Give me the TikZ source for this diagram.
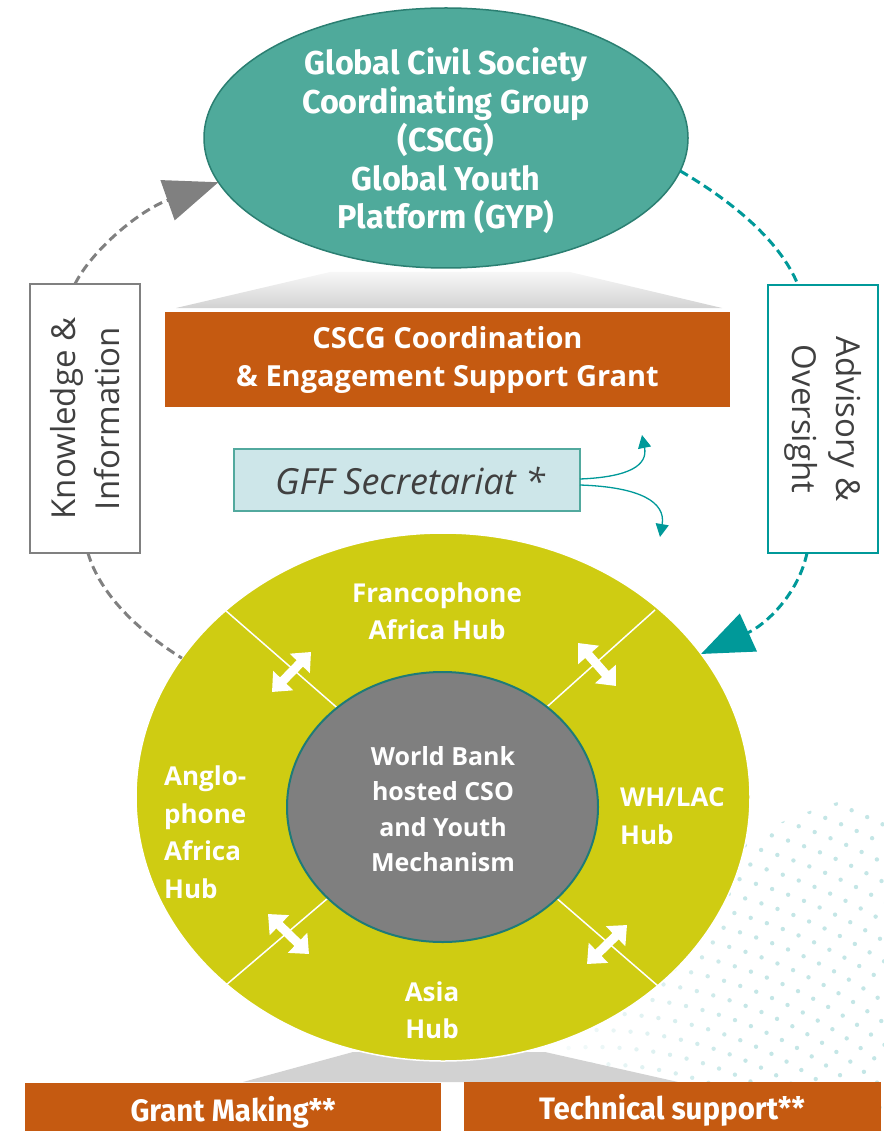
\documentclass[tikz,border=0pt]{standalone}
\usepackage{fontspec}
\setmainfont{Open Sans}
\newfontfamily\condfont[FakeStretch=0.95]{Fira Sans}
\newfontfamily\condfontb[FakeStretch=0.98]{Fira Sans}
\usetikzlibrary{shapes.geometric,arrows.meta,calc}
\definecolor{cscgfill}{HTML}{4FAA9B}
\definecolor{cscgline}{HTML}{2B7F72}
\definecolor{orangebox}{HTML}{C55A11}
\definecolor{hubfill}{HTML}{CFCC12}
\definecolor{wbfill}{HTML}{7F7F7F}
\definecolor{wbline}{HTML}{1E7B78}
\definecolor{tealarrow}{HTML}{009999}
\definecolor{grayarrow}{HTML}{808080}
\definecolor{gfffill}{HTML}{CDE6E9}
\definecolor{gffline}{HTML}{52A99E}
\definecolor{darktext}{HTML}{404040}
\definecolor{dotc}{HTML}{C4E6E6}
\begin{document}
\begin{tikzpicture}[x=1pt,y=-1pt,
  hubtxt/.style={text=white,font=\fontsize{26}{37.5}\selectfont\bfseries,inner sep=0pt},
  orangebx/.style={fill=orangebox,draw=none,inner sep=0pt,outer sep=0pt},
  sidebox/.style={fill=white,line width=1.5pt,inner sep=0pt,outer sep=0pt,minimum width=110pt},
  sidetxt/.style={text=darktext,font=\fontsize{33}{44}\selectfont,align=center,inner sep=0pt},
  dashedcon/.style={line width=3pt,dash pattern=on 9pt off 5pt},
  twoway/.style={white,line width=9pt,{Triangle[length=16pt,width=27pt]}-{Triangle[length=16pt,width=27pt]}}
]
\useasboundingbox (0,0) rectangle (883,1131);

% decorative dots
\begin{scope}
  \clip (960,1230) circle (445);
  \foreach \r in {300,317,...,660}{
    \pgfmathsetmacro\st{974/\r}
    \pgfmathsetmacro\sn{250+\st}
    \foreach \a in {250,\sn,...,325}{
      \pgfmathsetmacro\op{max(0,min(1,(595+\r*cos(\a)-530)/220))}
      \fill[dotc,opacity=\op] (595,1415) ++(\a:\r) circle (2.2);
    }
  }
\end{scope}

% shadows
\shade[top color=gray!6,bottom color=gray!35] (330,272) -- (570,272) -- (722,308) -- (176,308) -- cycle;
\fill[gray!35] (353,1052) -- (545,1052) -- (678,1082) -- (243,1082) -- cycle;

% top ellipse
\node[ellipse,fill=cscgfill,draw=cscgline,line width=1.5pt,minimum width=484pt,minimum height=260pt,inner sep=0pt,outer sep=0pt] (cscg) at (446,138) {};
\node[text=white,font=\condfontb\bfseries\fontsize{33}{38.5}\selectfont,align=center,inner sep=0pt] (cscgtxt) at (446,141)
  {Global Civil Society\\Coordinating Group\\(CSCG)\\Global Youth\\Platform (GYP)};

% orange grant box
\node[orangebx,minimum width=565pt,minimum height=95pt] (cscggrant) at (447.5,359.5) {};
\node[text=white,font=\fontsize{29}{38}\selectfont\bfseries,align=center,inner sep=0pt] (cscggranttxt) at (cscggrant.center)
  {CSCG Coordination\\\& Engagement Support Grant};

% GFF secretariat
\node[fill=gfffill,draw=gffline,line width=1.5pt,minimum width=346pt,minimum height=62pt,inner sep=0pt,outer sep=0pt] (gff) at (407,480) {};
\node[text=darktext,font=\fontsize{36}{40}\selectfont\itshape,inner sep=0pt] (gfftxt) at (410,481) {GFF Secretariat *};
\coordinate (gffup) at (642,435);
\coordinate (gffdown) at (660,537);
\draw[tealarrow,line width=1.3pt,-{Triangle[length=13pt,width=13pt]}] ($(gff.east)+(0,-1)$) .. controls (630,477) and (648,465) .. (gffup);
\draw[tealarrow,line width=1.3pt,-{Triangle[length=13pt,width=13pt]}] ($(gff.east)+(0,5)$) .. controls (640,487) and (666,502) .. (gffdown);

% side boxes
\node[sidebox,draw=grayarrow,minimum height=269pt] (know) at (85,418.5) {};
\node[sidetxt,rotate=90] (knowtxt) at (know.center) {Knowledge \&\\Information};
\node[sidebox,draw=tealarrow,minimum height=268pt] (adv) at (823,419) {};
\node[sidetxt,rotate=-90] (advtxt) at (adv.center) {Advisory \&\\Oversight};

% hub ellipse
\node[ellipse,fill=hubfill,draw=white,line width=1.5pt,minimum width=614pt,minimum height=528pt,inner sep=0pt,outer sep=0pt] (hub) at (443,797) {};
\coordinate (hubc) at (443,800);
\coordinate (divA) at (225,610);
\coordinate (divB) at (655,610);
\coordinate (divC) at (226,985);
\coordinate (divD) at (658,986);
\draw[white,line width=1.5pt] (hubc) -- (divA) (hubc) -- (divB) (hubc) -- (divC) (hubc) -- (divD);

% inner ellipse
\node[ellipse,fill=wbfill,draw=wbline,line width=2pt,minimum width=311pt,minimum height=270pt,inner sep=0pt,outer sep=0pt] (wb) at (442.5,807) {};
\node[hubtxt,align=center,font=\fontsize{25}{35.5}\selectfont\bfseries] (wbtxt) at (443,809) {World Bank\\hosted CSO\\and Youth\\Mechanism};

% two-way arrows
\draw[twoway] (272,692) -- (311,652);
\draw[twoway] (578,643) -- (616,686);
\draw[twoway] (268,914) -- (309,954);
\draw[twoway] (627,925) -- (587,964);

% hub labels
\node[hubtxt,align=center] (franco) at (437,611) {Francophone\\Africa Hub};
\node[hubtxt,align=left,anchor=west] (anglo) at (164,832) {Anglo-\\phone\\Africa\\Hub};
\node[hubtxt,align=left,anchor=west] (whlac) at (620,816) {WH/LAC\\Hub};
\node[hubtxt,align=center] (asia) at (432,1010) {Asia\\Hub};

% dashed connectors
\draw[grayarrow,dashedcon,-{Triangle[length=54pt,width=42pt]}] ($(know.north)+(-10,0)$) .. controls (92,250) and (140,210) .. (cscg.191);
\draw[grayarrow,dashedcon] ($(know.south)+(3,0)$) .. controls (100,595) and (140,632) .. (hub.152);
\draw[tealarrow,dashedcon] (cscg.-8) .. controls (730,200) and (780,240) .. ($(adv.north)+(-25,0)$);
\draw[tealarrow,dashedcon,-{Triangle[length=52pt,width=41pt]}] ($(adv.south)+(-16,0)$) .. controls (798,595) and (765,625) .. (hub.29);

% bottom boxes
\node[orangebx,minimum width=416pt,minimum height=56pt] (grant) at (233,1111) {};
\node[text=white,font=\condfont\bfseries\fontsize{31}{34}\selectfont,inner sep=0pt] (granttxt) at (233,1112) {Grant Making**};
\node[orangebx,minimum width=417pt,minimum height=56pt] (tech) at (672.5,1110) {};
\node[text=white,font=\condfont\bfseries\fontsize{31}{34}\selectfont,inner sep=0pt] (techtxt) at (672,1110) {Technical support**};
\end{tikzpicture}
\end{document}
